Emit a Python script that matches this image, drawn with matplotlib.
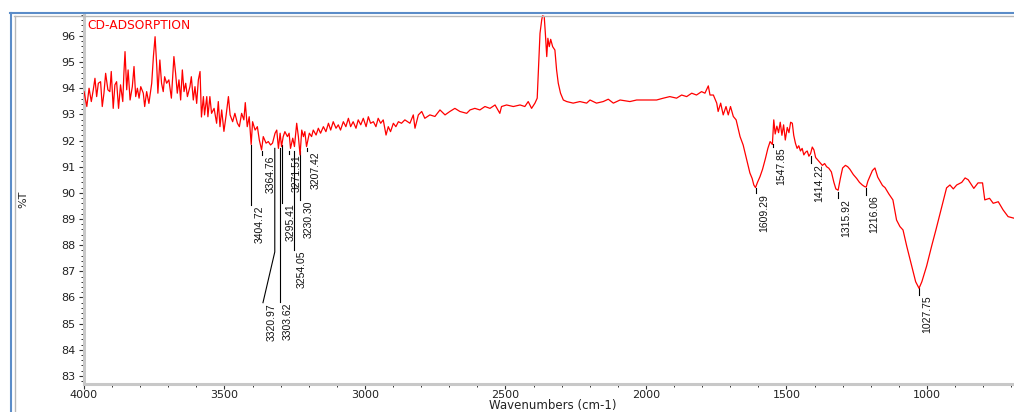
import numpy as np
import matplotlib
matplotlib.use('Agg')
import matplotlib.pyplot as plt
from matplotlib.lines import Line2D
from matplotlib.ticker import MultipleLocator

# ---- spectrum (wavenumber cm-1, %T) ----
wn_a = [4000, 3990, 3982, 3974, 3967, 3961, 3955, 3949, 3941, 3935, 3929, 3923,
        3915, 3908, 3903, 3896, 3890, 3884, 3877, 3870, 3862, 3858, 3854, 3848,
        3843, 3836, 3828, 3822, 3816, 3810, 3804, 3798, 3789, 3784, 3777, 3769,
        3759, 3753, 3747, 3741, 3737, 3730, 3724, 3718, 3713, 3706, 3698, 3689,
        3680, 3674, 3668, 3662, 3656, 3650, 3644, 3638, 3632, 3623, 3618, 3611,
        3605, 3599, 3593, 3587, 3582, 3575, 3571, 3563, 3559, 3552, 3546, 3537,
        3528, 3522, 3516, 3510, 3502, 3494, 3486]
t_a = [93.87, 93.30, 94.00, 93.49, 93.94, 94.38, 93.68, 94.19, 94.25, 93.30, 93.81, 94.57,
       93.94, 93.87, 94.64, 93.23, 94.13, 94.25, 93.23, 94.13, 93.49, 94.57, 95.40, 93.94,
       94.70, 93.55, 94.06, 94.83, 93.68, 94.00, 93.62, 94.06, 93.81, 93.30, 93.87, 93.42,
       94.19, 95.21, 95.97, 94.83, 93.81, 95.08, 94.19, 93.87, 94.44, 94.19, 94.32, 93.62,
       95.21, 94.57, 93.81, 94.32, 93.55, 94.70, 93.87, 94.19, 93.68, 94.06, 94.44, 93.55,
       94.06, 93.42, 94.32, 94.64, 92.90, 93.68, 92.98, 93.68, 92.91, 93.68, 93.04, 93.23,
       92.66, 93.49, 92.53, 93.17, 92.35, 92.98, 93.68]

wn_b = [3480, 3471, 3463, 3454, 3447, 3439, 3431, 3426, 3419, 3412, 3405, 3400,
        3391, 3383, 3376, 3368, 3362, 3352, 3344, 3336, 3329, 3320, 3314, 3308,
        3302, 3297, 3291, 3285, 3276, 3270, 3265, 3257, 3251, 3243, 3237, 3231,
        3225, 3219, 3214, 3208, 3198, 3190, 3184, 3174, 3166, 3158, 3148, 3139,
        3130, 3122, 3113, 3103, 3095, 3087, 3077, 3068, 3059, 3051, 3042, 3032,
        3024, 3015, 3006, 2996, 2988, 2980, 2970, 2961, 2953, 2944, 2935, 2925,
        2917, 2909, 2899, 2890, 2881, 2870, 2858, 2840]
t_b = [92.98, 92.72, 93.04, 92.66, 92.53, 93.04, 92.79, 93.45, 92.53, 92.91, 91.85, 92.72,
       92.40, 92.53, 92.02, 91.64, 92.15, 91.90, 91.96, 91.83, 91.90, 92.28, 92.40, 91.70,
       92.28, 91.77, 92.15, 92.34, 92.15, 92.28, 91.70, 92.09, 91.77, 92.66, 92.15, 91.45,
       92.40, 92.15, 92.34, 91.77, 92.28, 92.15, 92.40, 92.21, 92.47, 92.28, 92.53, 92.34,
       92.66, 92.40, 92.72, 92.47, 92.60, 92.40, 92.72, 92.53, 92.85, 92.53, 92.72, 92.47,
       92.79, 92.60, 92.85, 92.53, 92.91, 92.66, 92.72, 92.53, 92.85, 92.66, 92.79, 92.21,
       92.53, 92.34, 92.66, 92.53, 92.72, 92.66, 92.79, 92.66]

wn_c = [2828, 2822, 2810, 2798, 2787, 2769, 2751, 2733, 2715, 2698, 2680, 2662,
        2638, 2626, 2609, 2591, 2573, 2555, 2537, 2520, 2514, 2496, 2472, 2448,
        2431, 2419, 2407, 2395, 2387, 2382, 2377, 2371, 2368, 2362, 2358, 2353,
        2349, 2344, 2339, 2332, 2324, 2318, 2312, 2304, 2294, 2282, 2259, 2235,
        2211, 2199, 2176, 2152, 2134, 2116, 2092, 2057, 2033, 1998, 1962, 1938,
        1915, 1891, 1873, 1855, 1837, 1820, 1802, 1790, 1778, 1772, 1760, 1748,
        1743, 1734, 1725, 1715, 1707, 1699, 1689, 1679, 1665, 1654]
t_c = [92.98, 92.47, 92.98, 93.11, 92.85, 92.98, 92.92, 93.17, 92.98, 93.11, 93.23, 93.11,
       93.04, 93.17, 93.23, 93.17, 93.30, 93.23, 93.36, 93.04, 93.30, 93.36, 93.30, 93.36,
       93.30, 93.49, 93.23, 93.43, 93.62, 94.83, 96.10, 96.61, 96.77, 96.74, 96.10, 95.21,
       95.91, 95.59, 95.87, 95.59, 95.46, 94.70, 94.19, 93.81, 93.55, 93.49, 93.43, 93.49,
       93.43, 93.55, 93.43, 93.49, 93.58, 93.43, 93.55, 93.49, 93.55, 93.55, 93.55, 93.62,
       93.68, 93.62, 93.74, 93.68, 93.81, 93.74, 93.87, 93.81, 94.09, 93.74, 93.74, 93.43,
       93.11, 93.43, 92.98, 93.30, 92.98, 93.30, 92.92, 92.79, 92.15, 91.83]

wn_d = [1647, 1640, 1630, 1622, 1616, 1610, 1603, 1594, 1585, 1575, 1566, 1558,
        1550, 1545, 1540, 1534, 1528, 1522, 1516, 1510, 1504, 1497, 1491, 1485,
        1479, 1474, 1468, 1462, 1456, 1450, 1444, 1438, 1432, 1426, 1420, 1414,
        1408, 1402, 1396, 1388, 1380, 1372, 1364, 1357, 1349, 1340, 1331, 1324,
        1316, 1308, 1300, 1290, 1282, 1274, 1262, 1250, 1240, 1230, 1222, 1216,
        1210, 1202, 1194, 1185, 1175, 1167, 1158, 1149, 1135]
t_d = [91.52, 91.20, 90.76, 90.55, 90.30, 90.20, 90.40, 90.62, 90.90, 91.30, 91.70, 91.96,
       91.85, 92.79, 92.25, 92.55, 92.30, 92.70, 92.20, 92.60, 92.02, 92.50, 92.30, 92.70,
       92.66, 92.20, 91.90, 91.70, 91.80, 91.60, 91.70, 91.45, 91.55, 91.60, 91.40, 91.50,
       91.75, 91.64, 91.35, 91.25, 91.15, 91.05, 91.12, 91.00, 90.94, 90.80, 90.40, 90.15,
       90.10, 90.55, 90.95, 91.05, 91.00, 90.90, 90.70, 90.55, 90.40, 90.30, 90.24, 90.22,
       90.45, 90.65, 90.85, 90.95, 90.60, 90.45, 90.28, 90.20, 89.95]

wn_e = [1121, 1108, 1096, 1085, 1072, 1054, 1040, 1028, 1018, 1001, 983, 968,
        947, 930, 918, 906, 894, 876, 864, 853, 841, 833, 818, 802,
        794, 777, 764, 746, 729, 711, 690]
t_e = [89.73, 88.96, 88.71, 88.58, 87.97, 87.20, 86.60, 86.35, 86.60, 87.20, 87.97, 88.58,
       89.47, 90.19, 90.30, 90.15, 90.30, 90.40, 90.57, 90.50, 90.30, 90.17, 90.38, 90.38,
       89.73, 89.79, 89.60, 89.66, 89.35, 89.09, 89.03]

wavenumber = np.array(wn_a + wn_b + wn_c + wn_d + wn_e, dtype=float)
transmittance = np.array(t_a + t_b + t_c + t_d + t_e)

# ---- peak labels ----
peak_labels = ["3404.72", "3364.76", "3320.97", "3303.62", "3295.41", "3271.51",
               "3254.05", "3230.30", "3207.42", "1609.29", "1547.85", "1414.22",
               "1315.92", "1216.06", "1027.75"]
peak_t = [91.83, 91.60, 91.70, 91.70, 91.83, 91.60, 91.60, 91.60, 91.70,
          90.20, 91.85, 91.40, 90.05, 90.20, 86.35]
# where each leader line stops (layout)
leader_end = [89.54, 91.45, 87.74, 85.83, 89.61, 91.50, 87.82, 89.73, 91.60,
              89.99, 91.77, 91.13, 89.79, 89.92, 86.10]

fig = plt.figure(figsize=(10.14, 4.12), dpi=100)
ax = fig.add_axes([84/1014, 1-384/412, 930/1014, 369/412])

ax.plot(wavenumber, transmittance, color='#ff0000', linewidth=0.9, zorder=3)

for i, lab in enumerate(peak_labels):
    x0 = float(lab)
    xs = [x0, x0]
    ys = [peak_t[i], leader_end[i]]
    if lab == "3320.97":
        # this one is bent to the left to clear its neighbour
        xs.append(3363)
        ys.append(85.80)
    ax.plot(xs, ys, color='black', linewidth=0.8, zorder=2)
    ax.annotate(lab, xy=(xs[-1], ys[-1]), xytext=(2.5, -0.5),
                textcoords='offset points', rotation=90, ha='left', va='top',
                fontsize=7.5, family='Liberation Sans', color='#111111')

ax.set_xlim(4000, 690)
ax.set_ylim(82.69, 96.8)
ax.xaxis.set_major_locator(MultipleLocator(500))
ax.xaxis.set_minor_locator(MultipleLocator(100))
ax.yaxis.set_major_locator(MultipleLocator(1))
ax.yaxis.set_minor_locator(MultipleLocator(0.2))

for s in ['top', 'right']:
    ax.spines[s].set_visible(False)
for s in ['left', 'bottom']:
    ax.spines[s].set_color('#c8c8c8')
    ax.spines[s].set_linewidth(2.2)

ax.tick_params(which='major', direction='out', length=3.5, width=0.8,
               color='#333333', labelsize=8)
ax.tick_params(which='minor', direction='out', length=2.2, width=0.7,
               color='#333333')
ax.tick_params(axis='x', which='major', pad=0.5)
ax.tick_params(axis='y', which='major', pad=2.5)
for lbl in ax.get_xticklabels() + ax.get_yticklabels():
    lbl.set_family('DejaVu Sans')
    lbl.set_color('#222222')

ax.set_xlabel('Wavenumbers (cm-1)', fontsize=8.5, family='DejaVu Sans', color='#222222')
ax.xaxis.set_label_coords((553-84)/930, -15/369)
ax.set_ylabel('%T', fontsize=8, family='DejaVu Sans', color='#222222')
ax.yaxis.set_label_coords((28-84)/930, 0.5)
ax.text(0.004, 0.99, 'CD-ADSORPTION', transform=ax.transAxes, color='#ff0000',
        fontsize=8.8, family='DejaVu Sans', ha='left', va='top')

# window frame lines
fig.add_artist(Line2D([10/1014, 1], [1-13/412, 1-13/412], color='#5b8cc8',
                      linewidth=1.5, transform=fig.transFigure))
fig.add_artist(Line2D([11/1014, 11/1014], [0, 1-13/412], color='#5b8cc8',
                      linewidth=1.5, transform=fig.transFigure))
fig.add_artist(Line2D([14/1014, 1], [1-15.5/412, 1-15.5/412], color='#b8b8b8',
                      linewidth=1.0, transform=fig.transFigure))
fig.add_artist(Line2D([14.5/1014, 14.5/1014], [0, 1-15.5/412], color='#b8b8b8',
                      linewidth=1.0, transform=fig.transFigure))

fig.savefig('out.png', dpi=100)
